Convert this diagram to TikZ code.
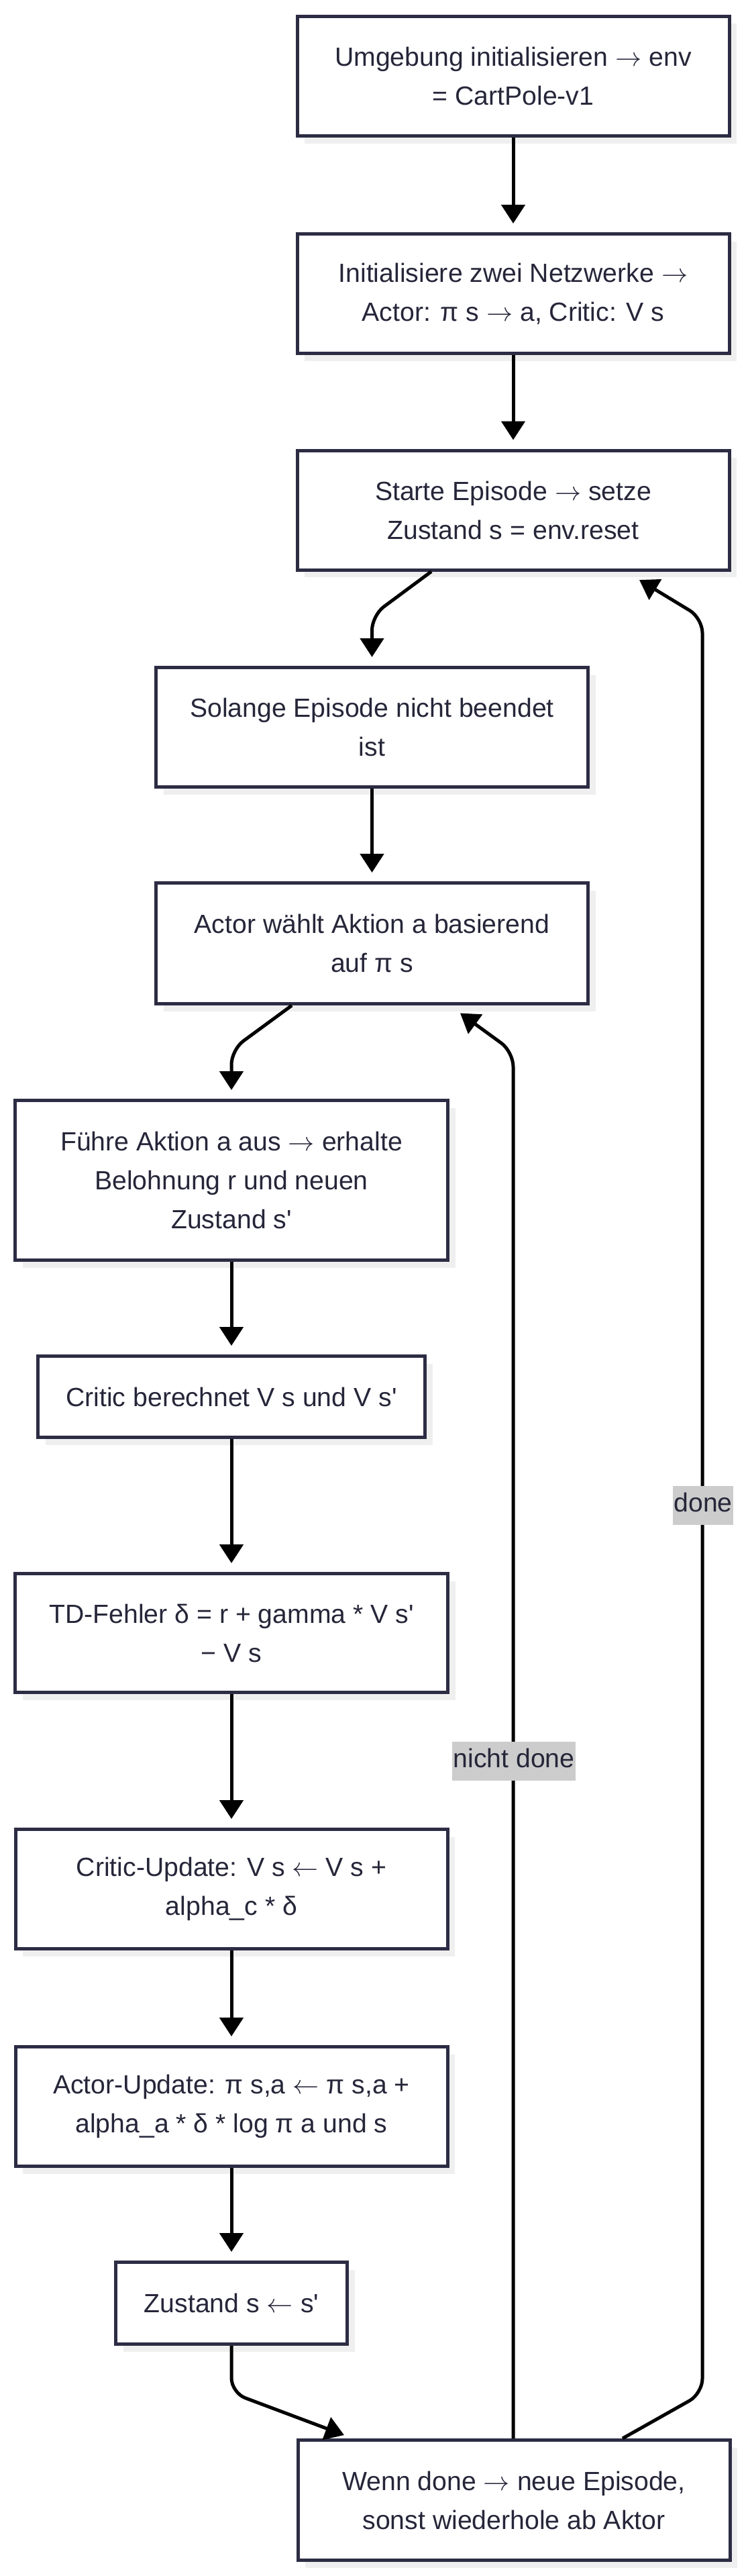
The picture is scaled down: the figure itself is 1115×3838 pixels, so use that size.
\RequirePackage{fix-cm}
\documentclass[tikz,border=0pt]{standalone}
\usepackage{fontspec}
\setmainfont{Liberation Sans}
\usetikzlibrary{arrows.meta,shadows}
\definecolor{bordc}{RGB}{44,44,68}
\definecolor{txtc}{RGB}{38,38,58}
\definecolor{lblc}{RGB}{204,204,204}
\definecolor{shadc}{RGB}{239,239,239}
\newcommand\sq{\textquotesingle}
\newcommand\ra{$\rightarrow$}
\newcommand\la{$\leftarrow$}
\begin{document}
\begin{tikzpicture}[x=1pt,y=-1pt,
 box/.style={draw=bordc,line width=5pt,fill=white,text=txtc,align=center,inner sep=0pt,
   font=\fontsize{39.2pt}{58pt}\selectfont,minimum width=644pt,minimum height=178pt,
   drop shadow={shadow xshift=11pt,shadow yshift=-11pt,fill=shadc,opacity=1}},
 arr/.style={draw=black,line width=5pt,-{Triangle[width=35pt,length=28pt]}},
 vln/.style={arr,shorten >=13pt},
 bendarr/.style={arr,rounded corners=22pt},
 elabel/.style={fill=lblc,text=txtc,font=\fontsize{39.2pt}{58pt}\selectfont,inner xsep=1.5pt,inner ysep=0pt,text height=38pt,text depth=20pt}]
\fill[white] (0,0) rectangle (1115,3838);
\useasboundingbox (0,0) rectangle (1115,3838);

\node[box] (b1) at (765,113.5) {Umgebung initialisieren \ra{} env\\= CartPole-v1};
\node[box] (b2) at (765,437.5) {Initialisiere zwei Netzwerke \ra\\Actor: π s \ra{} a, Critic: V s};
\node[box] (b3) at (765,760) {Starte Episode \ra{} setze\\Zustand s = env.reset};
\node[box] (b4) at (554.5,1083.5) {Solange Episode nicht beendet\\ist};
\node[box,minimum height=180pt] (b5) at (554.5,1405.5) {Actor wählt Aktion a basierend\\auf π s};
\node[box,minimum width=645pt,minimum height=238pt] (b6) at (345,1758.5) {Führe Aktion a aus \ra{} erhalte\\Belohnung r und neuen\\Zustand s\sq};
\node[box,minimum width=577pt,minimum height=121pt] (b7) at (345,2081) {Critic berechnet V s und V s\sq};
\node[box,minimum width=645pt,minimum height=177pt] (b8) at (345,2433) {TD-Fehler δ = r + gamma * V s\sq\\− V s};
\node[box] (b9) at (345,2814.5) {Critic-Update: V s \la{} V s +\\alpha\_c * δ};
\node[box] (b10) at (345,3138.5) {Actor-Update: π s,a \la{} π s,a +\\alpha\_a * δ * log π a und s};
\node[box,minimum width=345pt,minimum height=122pt] (b11) at (345,3431.5) {Zustand s \la{} s\sq};
\node[box,minimum height=179pt] (b12) at (766,3725) {Wenn done \ra{} neue Episode,\\sonst wiederhole ab Aktor};

\draw[vln] (b1) -- (b2);
\draw[vln] (b2) -- (b3);
\draw[bendarr,shorten >=13pt] ([xshift=-122pt]b3.south) -- (554.5,917) -- (b4.north);
\draw[vln] (b4) -- (b5);
\draw[bendarr,shorten >=13pt] ([xshift=-119.5pt]b5.south) -- (345,1564) -- (b6.north);
\draw[vln] (b6) -- (b7);
\draw[vln] (b7) -- (b8);
\draw[vln] (b8) -- (b9);
\draw[vln] (b9) -- (b10);
\draw[vln] (b10) -- (b11);
\draw[bendarr] (b11.south) -- (345,3565) -- ([xshift=-253pt,yshift=5pt]b12.north);
\draw[bendarr] ([xshift=-1pt]b12.north) -- (765,1567) -- ([xshift=131.5pt,yshift=-11.5pt]b5.south);
\draw[bendarr] ([xshift=162pt]b12.north) -- (1047,3566) -- (1047,921) -- ([xshift=188pt,yshift=-12.5pt]b3.south);

\node[elabel] (l1) at (766,2624) {nicht done};
\node[elabel] (l2) at (1048,2243) {done};
\end{tikzpicture}
\end{document}
